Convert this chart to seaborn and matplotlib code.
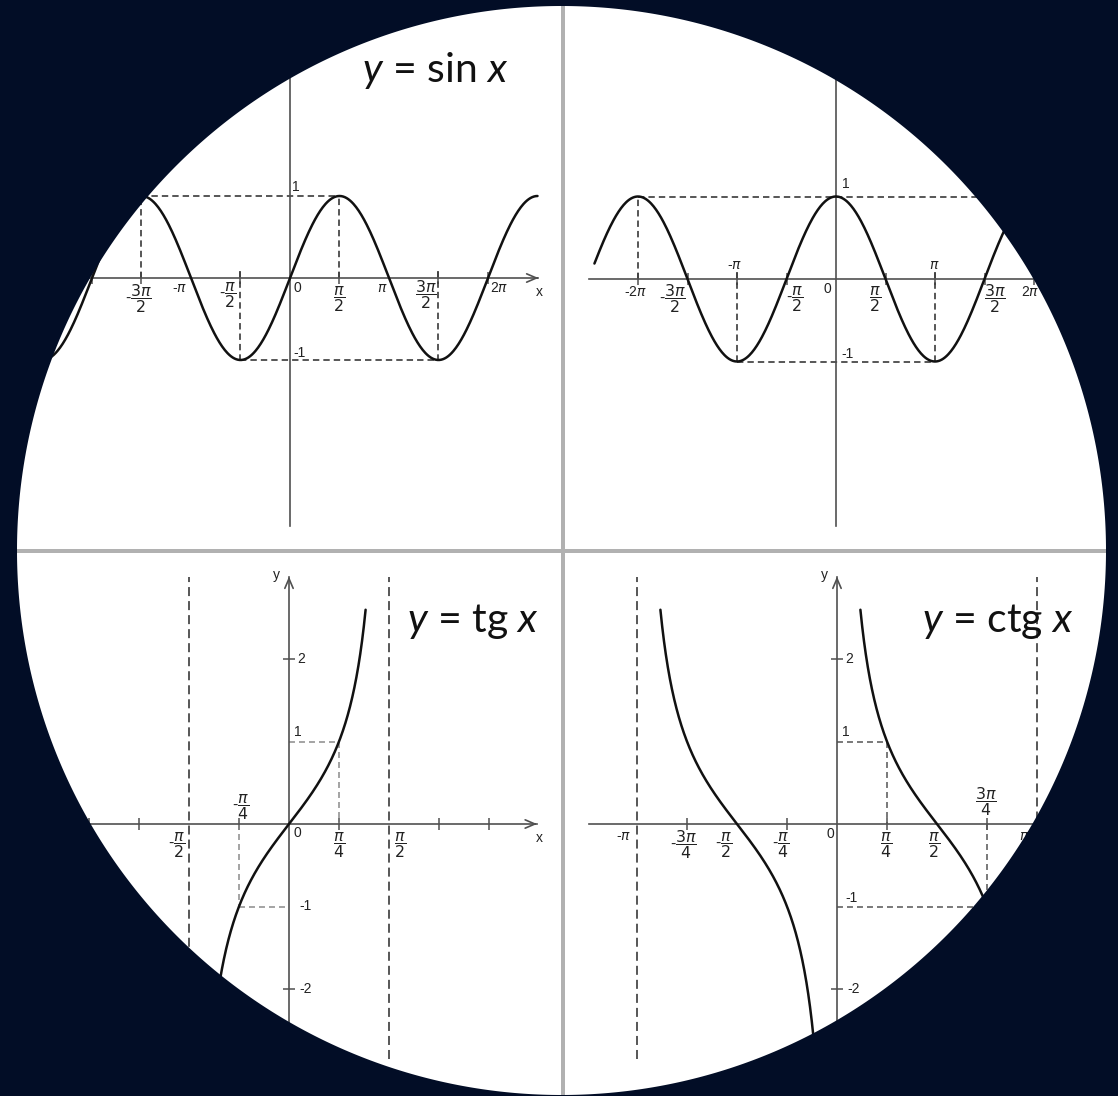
import numpy as np
import matplotlib
matplotlib.use('Agg')
import matplotlib.pyplot as plt
from matplotlib.path import Path
from matplotlib.patches import PathPatch, Rectangle
import seaborn as sns

PI = np.pi

# ---- data (x values in multiples of pi) ----
SIN_DOMAIN = [-2.8, 2.5]
COS_DOMAIN = [-2.44, 2.6]
TAN_DOMAIN = [-0.383, 0.383]
COT_BRANCHES = [[-0.883, -0.117], [0.117, 0.883]]

SIN_XTICKS = [-2, -1.5, -0.5, 0.5, 1.5, 2]
COS_XTICKS = [-2, -1.5, -1, -0.5, 0.5, 1, 1.5, 2]
TAN_XTICKS = [-1, -0.75, -0.25, 0.25, 0.75, 1]
COT_XTICKS = [-0.75, -0.25, 0.25, 0.75, 1]
TG_YTICKS = [-2, 2]

SIN_XLAB_POS = [-1.5, -1, -0.5, 0, 0.5, 1, 1.5, 2]
SIN_XLAB_TXT = [r'-$\dfrac{3\pi}{2}$', r'-$\pi$', r'-$\dfrac{\pi}{2}$', '0',
                r'$\dfrac{\pi}{2}$', r'$\pi$', r'$\dfrac{3\pi}{2}$', r'2$\pi$']
COS_XLAB_POS = [-2, -1.5, -1, -0.5, 0, 0.5, 1, 1.5, 2]
COS_XLAB_TXT = [r'-2$\pi$', r'-$\dfrac{3\pi}{2}$', r'-$\pi$', r'-$\dfrac{\pi}{2}$', '0',
                r'$\dfrac{\pi}{2}$', r'$\pi$', r'$\dfrac{3\pi}{2}$', r'2$\pi$']
TAN_XLAB_POS = [-0.5, -0.25, 0, 0.25, 0.5]
TAN_XLAB_TXT = [r'-$\dfrac{\pi}{2}$', r'-$\dfrac{\pi}{4}$', '0', r'$\dfrac{\pi}{4}$', r'$\dfrac{\pi}{2}$']
COT_XLAB_POS = [-1, -0.75, -0.5, -0.25, 0, 0.25, 0.5, 0.75, 1]
COT_XLAB_TXT = [r'-$\pi$', r'-$\dfrac{3\pi}{4}$', r'-$\dfrac{\pi}{2}$', r'-$\dfrac{\pi}{4}$', '0',
                r'$\dfrac{\pi}{4}$', r'$\dfrac{\pi}{2}$', r'$\dfrac{3\pi}{4}$', r'$\pi$']

SINCOS_YLAB_POS = [1, -1]
SINCOS_YLAB_TXT = ['1', '-1']
TG_YLAB_POS = [2, 1, -1, -2]
TG_YLAB_TXT = ['2', '1', '-1', '-2']

# dashed guide segments ((x1, y1), (x2, y2)), x in multiples of pi
SIN_GUIDES = [((-1.5, 1), (0.5, 1)), ((-0.5, -1), (1.5, -1)),
              ((-1.5, 0), (-1.5, 1)), ((0.5, 0), (0.5, 1)),
              ((-0.5, 0.08), (-0.5, -1)), ((1.5, 0.08), (1.5, -1))]
COS_GUIDES = [((-2, 1), (2, 1)), ((-1, -1), (1, -1)),
              ((-2, 0), (-2, 1)), ((-1, 0.08), (-1, -1)), ((1, 0.08), (1, -1))]
TAN_GUIDES = [((0, 1), (0.25, 1)), ((0.25, 1), (0.25, 0)),
              ((-0.25, -1), (0, -1)), ((-0.25, 0), (-0.25, -1))]
COT_GUIDES = [((0, 1), (0.25, 1)), ((0.25, 1), (0.25, 0)),
              ((0, -1), (0.75, -1)), ((0.75, 0), (0.75, -1))]
TAN_ASYMPTOTES = [-0.5, 0.5]
COT_ASYMPTOTES = [-1, 1]
ASYMPTOTE_Y = [-2.85, 3.0]

# ---- layout ----
W, H = 1118, 1096
NAVY = '#020d26'
DIV_C = '#b1b1b1'
AX_C = '#505050'
CURVE_C = '#111111'
DASH_C = '#3a3a3a'
TXT_C = '#222222'

sns.set_theme(style='white')
plt.rcParams['mathtext.rm'] = 'Lato'
plt.rcParams['mathtext.it'] = 'Lato:italic'
plt.rcParams['lines.scale_dashes'] = False

fig = plt.figure(figsize=(W / 100, H / 100), dpi=100, facecolor=NAVY)


def make_panel(box, origin, px_pi, px_unit):
    x0, y0, x1, y1 = box
    ax = fig.add_axes([x0 / W, 1 - y1 / H, (x1 - x0) / W, (y1 - y0) / H])
    ox, oy = origin
    sx = px_pi / PI
    ax.set_xlim((x0 - ox) / sx, (x1 - ox) / sx)
    ax.set_ylim((oy - y1) / px_unit, (oy - y0) / px_unit)
    ax.set_facecolor('white')
    return ax


def draw_axes(ax, xext, yext, xticks, yticks, yarrow):
    for s in ['top', 'right']:
        ax.spines[s].set_visible(False)
    for s in ['bottom', 'left']:
        ax.spines[s].set_position(('data', 0))
        ax.spines[s].set_color(AX_C)
        ax.spines[s].set_linewidth(1.2)
    ax.spines['bottom'].set_bounds(xext[0] * PI, xext[1] * PI)
    ax.spines['left'].set_bounds(yext[0], yext[1])
    ax.set_xticks([t * PI for t in xticks])
    ax.set_yticks(yticks)
    ax.tick_params(direction='inout', length=9, width=1.1, color=AX_C,
                   bottom=True, left=True, labelbottom=False, labelleft=False)
    arrow = dict(arrowstyle='->,head_length=0.7,head_width=0.3', color=AX_C,
                 lw=1.2, shrinkA=0, shrinkB=0, mutation_scale=10)
    ax.annotate('', xy=(xext[1] * PI, 0), xytext=(xext[1] * PI - 0.05, 0), arrowprops=arrow)
    if yarrow:
        ax.annotate('', xy=(0, yext[1]), xytext=(0, yext[1] - 0.05), arrowprops=arrow)


def draw_guides(ax, segs, color, lw, dash):
    for (a, b) in segs:
        ax.plot([a[0] * PI, b[0] * PI], [a[1], b[1]], color=color, lw=lw,
                linestyle=(0, dash), zorder=2)


def text_at(ax, xy, s, off):
    size = 11.3 if 'dfrac' in s else 10
    ax.annotate(s, xy=xy, xytext=off, textcoords='offset pixels', ha='center', va='center',
                fontsize=size, family='Liberation Sans', math_fontfamily='dejavusans',
                color=TXT_C, zorder=5)


def put_labels(ax, pos, txt, offs, on_x):
    for p, t, o in zip(pos, txt, offs):
        text_at(ax, (p * PI, 0) if on_x else (0, p), t, o)


def curve(ax, lo, hi, func):
    xs = np.linspace(lo * PI, hi * PI, 600)
    sns.lineplot(x=xs, y=func(xs), ax=ax, color=CURVE_C, linewidth=1.8,
                 estimator=None, sort=False, legend=False, zorder=4)


# ---- sin ----
ax1 = make_panel((0, 0, 561, 549), (290, 278), 99, 82)
draw_axes(ax1, (-3.0, 2.51), (-3.02, 2.8), SIN_XTICKS, [], False)
draw_guides(ax1, SIN_GUIDES, DASH_C, 1.2, (4.6, 2.9))
curve(ax1, SIN_DOMAIN[0], SIN_DOMAIN[1], np.sin)
put_labels(ax1, SIN_XLAB_POS, SIN_XLAB_TXT,
           [(-3, -21), (-11, -10), (-13, -17), (7, -10), (0, -21), (-7, -10), (-13, -17), (11, -10)], True)
put_labels(ax1, SINCOS_YLAB_POS, SINCOS_YLAB_TXT, [(6, 9), (10, 7)], False)
text_at(ax1, (2.51 * PI, 0), 'x', (1, -14))

# ---- cos ----
ax2 = make_panel((565, 0, 1118, 549), (836, 279), 99, 82.5)
draw_axes(ax2, (-2.49, 2.9), (-2.99, 2.8), COS_XTICKS, [], False)
draw_guides(ax2, COS_GUIDES, DASH_C, 1.2, (4.6, 2.9))
curve(ax2, COS_DOMAIN[0], COS_DOMAIN[1], np.cos)
put_labels(ax2, COS_XLAB_POS, COS_XLAB_TXT,
           [(-3, -13), (-15, -20), (-2, 14), (8, -20), (-9, -10), (-10, -20), (-1, 14), (10, -20), (-4, -13)], True)
put_labels(ax2, SINCOS_YLAB_POS, SINCOS_YLAB_TXT, [(10, 12), (11, 8)], False)

# ---- tg ----
ax3 = make_panel((0, 553, 561, 1096), (289, 824), 200, 82.5)
draw_axes(ax3, (-1.5, 1.24), (-3.3, 3.0), TAN_XTICKS, TG_YTICKS, True)
for a in TAN_ASYMPTOTES:
    ax3.plot([a * PI, a * PI], ASYMPTOTE_Y, color=DASH_C, lw=1.2, linestyle=(0, (6.5, 3.6)), zorder=2)
draw_guides(ax3, TAN_GUIDES, '#8a8a8a', 1.1, (4.3, 2.9))
curve(ax3, TAN_DOMAIN[0], TAN_DOMAIN[1], np.tan)
put_labels(ax3, TAN_XLAB_POS, TAN_XLAB_TXT, [(-12, -21), (2, 17), (8, -9), (0, -21), (11, -21)], True)
put_labels(ax3, TG_YLAB_POS, TG_YLAB_TXT, [(12, 0), (9, 9), (17, 0), (17, 0)], False)
text_at(ax3, (1.24 * PI, 0), 'x', (2, -14))
text_at(ax3, (0, 3.0), 'y', (-13, 1))

# ---- ctg ----
ax4 = make_panel((565, 553, 1118, 1096), (837, 824), 200, 82.5)
draw_axes(ax4, (-1.24, 1.6), (-3.3, 3.0), COT_XTICKS, TG_YTICKS, True)
for a in COT_ASYMPTOTES:
    ax4.plot([a * PI, a * PI], ASYMPTOTE_Y, color=DASH_C, lw=1.2, linestyle=(0, (6.5, 3.6)), zorder=2)
draw_guides(ax4, COT_GUIDES, '#555555', 1.1, (4.3, 2.9))
for lo, hi in COT_BRANCHES:
    curve(ax4, lo, hi, lambda v: 1 / np.tan(v))
put_labels(ax4, COT_XLAB_POS, COT_XLAB_TXT,
           [(-13, -12), (-4, -21), (-13, -21), (-6, -21), (-7, -10), (-1, -21), (-3, -21), (-1, 22), (-13, -12)], True)
put_labels(ax4, TG_YLAB_POS, TG_YLAB_TXT, [(12, 0), (9, 9), (14, 9), (17, 0)], False)
text_at(ax4, (0, 3.0), 'y', (-13, 1))

# ---- titles ----
for x, y, s in [(362, 82, r'$y$ = sin $x$'), (407, 632, r'$y$ = tg $x$'), (922, 632, r'$y$ = ctg $x$')]:
    fig.text(x / W, 1 - y / H, s, fontsize=29.5, family='Lato', math_fontfamily='custom',
             ha='left', va='baseline', color='#111111', zorder=10)

# ---- dividers and round mask ----
ov = fig.add_axes([0, 0, 1, 1])
ov.set_xlim(0, W)
ov.set_ylim(H, 0)
ov.axis('off')
ov.patch.set_alpha(0)
ov.add_patch(Rectangle((561, 0), 4, H, color=DIV_C, lw=0))
ov.add_patch(Rectangle((0, 549), W, 4, color=DIV_C, lw=0))

cx, cy, r = 561.5, 550.5, 544.5
theta = np.linspace(0, -2 * PI, 721)
circ = np.column_stack([cx + r * np.cos(theta), cy + r * np.sin(theta)])
rect = np.array([[0, 0], [W, 0], [W, H], [0, H], [0, 0]])
verts = np.vstack([rect, circ])
codes = [Path.MOVETO] + [Path.LINETO] * 3 + [Path.CLOSEPOLY] + \
        [Path.MOVETO] + [Path.LINETO] * (len(circ) - 2) + [Path.CLOSEPOLY]
ov.add_patch(PathPatch(Path(verts, codes), facecolor=NAVY, edgecolor='none', zorder=20))

fig.savefig('out.png', dpi=100, facecolor=NAVY)
